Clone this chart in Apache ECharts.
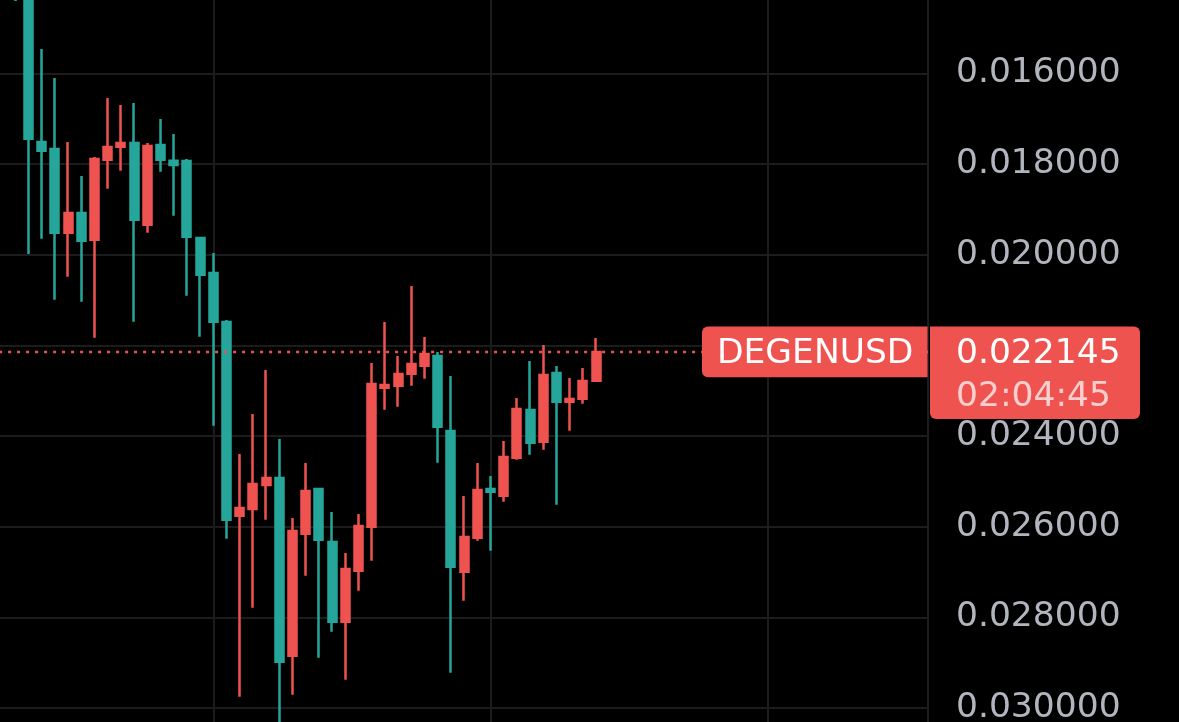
<!DOCTYPE html>
<html><head><meta charset="utf-8">
<script src="https://cdn.jsdelivr.net/npm/echarts@6/dist/echarts.min.js"></script>
<style>html,body{margin:0;padding:0;background:#000;}#c{width:1179px;height:722px;}</style>
</head><body><div id="c"></div>
<script>
const symbol = 'DEGENUSD';
const countdown = '02:04:45';
// bar slot positions on the time axis
const slots = [6,7,8,9,10,11,12,13,14,15,16,17,18,19,20,21,22,23,24,25,26,27,28,29,30,31,32,33,34,35,36,37,38,39,40,41,42,43,44,45,46,47,48,49,50];
const opens = [0.013500,0.014150,0.017515,0.017670,0.019516,0.019082,0.019671,0.017906,0.017619,0.017537,
  0.019340,0.017582,0.017928,0.017934,0.019633,0.020405,0.021486,0.025759,0.025611,0.025081,
  0.024927,0.028847,0.026156,0.025170,0.026339,0.028097,0.026972,0.026001,0.022935,0.022891,
  0.022626,0.022450,0.022236,0.023890,0.026994,0.026244,0.025170,0.025317,0.024479,0.023427,
  0.024126,0.022611,0.023244,0.023178,0.022781];
const closes = [0.014320,0.017443,0.017707,0.019516,0.019082,0.019693,0.017890,0.017626,0.017537,0.019229,
  0.017604,0.017906,0.018023,0.019604,0.020443,0.021479,0.025847,0.025589,0.025059,0.024927,
  0.028979,0.026096,0.025214,0.026288,0.028097,0.026934,0.025986,0.022853,0.022876,0.022633,
  0.022412,0.022192,0.023795,0.026883,0.026228,0.025192,0.025229,0.024464,0.023405,0.024148,
  0.022655,0.023244,0.023184,0.022787,0.022145];
const lows = [0.013400,0.014050,0.015464,0.016104,0.017515,0.018265,0.017846,0.016545,0.016699,0.016655,
  0.017537,0.017008,0.017339,0.017890,0.019611,0.019964,0.021442,0.024398,0.023515,0.022545,
  0.024067,0.025809,0.024596,0.025148,0.025677,0.026581,0.025721,0.022390,0.021486,0.022236,
  0.020692,0.021817,0.022148,0.022677,0.025324,0.024596,0.024883,0.024111,0.023162,0.022346,
  0.021993,0.022456,0.022721,0.022501,0.021839];
const highs = [0.014405,0.019986,0.019648,0.020994,0.020487,0.021038,0.021832,0.018546,0.018148,0.021479,
  0.019516,0.018171,0.019141,0.020906,0.021810,0.023773,0.026266,0.029751,0.027788,0.025847,
  0.030375,0.029707,0.027082,0.028891,0.028317,0.029376,0.027413,0.026751,0.023420,0.023354,
  0.022891,0.022737,0.024589,0.029222,0.027633,0.026310,0.026531,0.025450,0.024523,0.024413,
  0.024303,0.025516,0.023884,0.023288,0.022781];
const yMin = 0.014, yMax = 0.032, yStep = 0.002;
const xMin = 0, xMax = 75.14, xStep = 21;

const UP = '#26a69a', DOWN = '#ef5350';
const data = slots.map((s, i) => [s, opens[i], closes[i], lows[i], highs[i]]);
const last = closes[closes.length - 1];

const chart = echarts.init(document.getElementById('c'), null, {renderer: 'canvas'});
chart.setOption({
  backgroundColor: '#000000',
  animation: false,
  grid: {left: -63.9, right: 251, top: -17.4, bottom: -76.7, containLabel: false, outerBoundsMode: 'none'},
  xAxis: {
    type: 'value', min: xMin, max: xMax, interval: xStep,
    axisLine: {show: false}, axisTick: {show: false}, axisLabel: {show: false},
    splitLine: {show: true, lineStyle: {color: '#1c1c1c', width: 2}}
  },
  yAxis: {
    type: 'value', position: 'right', inverse: true,
    min: yMin, max: yMax, interval: yStep,
    axisLine: {show: true, lineStyle: {color: '#2a2a2a', width: 2}},
    axisTick: {show: false},
    axisLabel: {color: '#b2b5be', fontSize: 34.5, fontFamily: 'DejaVu Sans', margin: 28,
      padding: [4, 0, 0, 0], formatter: v => v.toFixed(6)},
    splitLine: {show: true, lineStyle: {color: '#1c1c1c', width: 2}}
  },
  series: [{
    type: 'candlestick',
    data: data,
    encode: {x: 0, y: [1, 2, 3, 4]},
    barWidth: 8.5,
    z: 2,
    itemStyle: {color: UP, color0: DOWN, borderColor: UP, borderColor0: DOWN, borderWidth: 2.5}
  }, {
    type: 'line',
    data: [[xMin, last], [xMax, last]],
    symbol: 'none',
    silent: true,
    z: 3,
    lineStyle: {color: DOWN, type: [3, 6], width: 2.5}
  }]
});

const yL = chart.convertToPixel({yAxisIndex: 0}, last);
const font = '34.5px "DejaVu Sans"';
chart.setOption({
  graphic: [
    {type: 'rect', z: 100, shape: {x: 702, y: yL - 25.3, width: 225.5, height: 50.7, r: [6, 0, 0, 6]}, style: {fill: DOWN}},
    {type: 'text', z: 101, style: {text: symbol, x: 717, y: yL + 2, fill: '#ffffff', font: font,
      textAlign: 'left', textVerticalAlign: 'middle', align: 'left', verticalAlign: 'middle'}},
    {type: 'rect', z: 100, shape: {x: 930, y: yL - 25.3, width: 210, height: 92.3, r: [0, 6, 6, 6]}, style: {fill: DOWN}},
    {type: 'text', z: 101, style: {text: last.toFixed(6), x: 956, y: yL + 2, fill: '#ffffff', font: font,
      textAlign: 'left', textVerticalAlign: 'middle', align: 'left', verticalAlign: 'middle'}},
    {type: 'text', z: 101, style: {text: countdown, x: 956, y: yL + 45, fill: 'rgba(255,255,255,0.72)', font: font,
      textAlign: 'left', textVerticalAlign: 'middle', align: 'left', verticalAlign: 'middle'}}
  ]
});
</script>
</body></html>
